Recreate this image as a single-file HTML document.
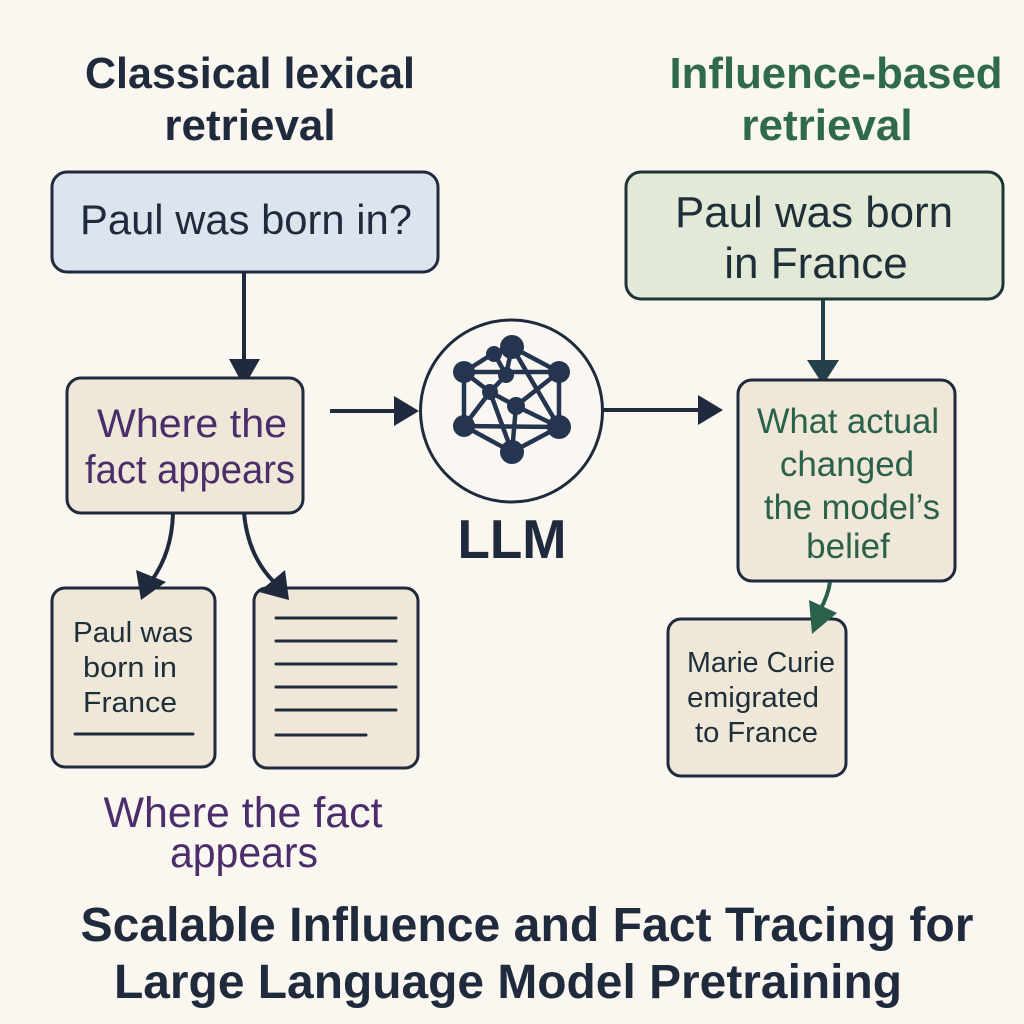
<!DOCTYPE html>
<html>
<head>
<meta charset="utf-8">
<style>
  html, body { margin: 0; padding: 0; background: #faf6f0; }
  svg { display: block; }
  text { font-family: "Liberation Sans", "DejaVu Sans", sans-serif; }
</style>
</head>
<body>
<svg width="1024" height="1024" viewBox="0 0 1024 1024" xmlns="http://www.w3.org/2000/svg">
  <rect x="0" y="0" width="1024" height="1024" fill="#faf6f0"/>

  <!-- Titles -->
  <text x="250" y="88" font-size="44" font-weight="bold" fill="#1f2a3d" text-anchor="middle" textLength="330" lengthAdjust="spacingAndGlyphs">Classical lexical</text>
  <text x="250" y="140" font-size="44" font-weight="bold" fill="#1f2a3d" text-anchor="middle">retrieval</text>

  <text x="836" y="88" font-size="44" font-weight="bold" fill="#2f6a4f" text-anchor="middle" textLength="333" lengthAdjust="spacingAndGlyphs">Influence-based</text>
  <text x="827" y="140" font-size="44" font-weight="bold" fill="#2f6a4f" text-anchor="middle">retrieval</text>

  <!-- Left query box -->
  <rect x="52" y="172" width="386" height="100" rx="15" fill="#dce5ee" stroke="#1f2a3d" stroke-width="3"/>
  <text x="246" y="234" font-size="42" fill="#1f2a3d" text-anchor="middle" textLength="332" lengthAdjust="spacingAndGlyphs">Paul was born in?</text>

  <!-- Down arrow left -->
  <line x1="244" y1="272" x2="244" y2="362" stroke="#1f2a3d" stroke-width="4"/>
  <polygon points="229,359 260,359 244,387" fill="#1f2a3d"/>

  <!-- Where the fact appears box -->
  <rect x="67" y="378" width="236" height="135" rx="14" fill="#efe8d8" stroke="#1f2a3d" stroke-width="3"/>
  <text x="192" y="437" font-size="40" fill="#4a2d6a" text-anchor="middle" textLength="190" lengthAdjust="spacingAndGlyphs">Where the</text>
  <text x="190" y="483" font-size="40" fill="#4a2d6a" text-anchor="middle" textLength="210" lengthAdjust="spacingAndGlyphs">fact appears</text>

  <!-- Arrow to LLM -->
  <line x1="330" y1="411" x2="398" y2="411" stroke="#1f2a3d" stroke-width="4"/>
  <polygon points="394,396 394,426 419,411" fill="#1f2a3d"/>

  <!-- LLM circle -->
  <circle cx="511.5" cy="411" r="91" fill="#faf7f2" stroke="#1f2a3d" stroke-width="3"/>
  <g stroke="#253550" stroke-width="4.5" fill="none" stroke-linecap="round">
    <line x1="494" y1="353" x2="512" y2="347"/>
    <line x1="494" y1="353" x2="464" y2="372"/>
    <line x1="512" y1="347" x2="559" y2="372"/>
    <line x1="464" y1="372" x2="464" y2="426"/>
    <line x1="559" y1="372" x2="559" y2="427"/>
    <line x1="464" y1="426" x2="512" y2="452"/>
    <line x1="559" y1="427" x2="512" y2="452"/>
    <line x1="464" y1="372" x2="559" y2="372"/>
    <line x1="464" y1="426" x2="559" y2="427"/>
    <line x1="494" y1="353" x2="506" y2="375"/>
    <line x1="512" y1="347" x2="506" y2="375"/>
    <line x1="506" y1="375" x2="490" y2="392"/>
    <line x1="464" y1="372" x2="490" y2="392"/>
    <line x1="490" y1="392" x2="464" y2="426"/>
    <line x1="490" y1="392" x2="512" y2="452"/>
    <line x1="490" y1="392" x2="516" y2="406"/>
    <line x1="516" y1="406" x2="559" y2="372"/>
    <line x1="516" y1="406" x2="559" y2="427"/>
    <line x1="516" y1="406" x2="512" y2="452"/>
    <line x1="512" y1="347" x2="559" y2="427"/>
  </g>
  <g fill="#253550">
    <circle cx="512" cy="347" r="12"/>
    <circle cx="494" cy="354" r="8"/>
    <circle cx="464" cy="372" r="11"/>
    <circle cx="559" cy="372" r="11"/>
    <circle cx="506" cy="375" r="8"/>
    <circle cx="490" cy="392" r="8"/>
    <circle cx="516" cy="406" r="9"/>
    <circle cx="464" cy="426" r="11"/>
    <circle cx="559" cy="427" r="12"/>
    <circle cx="512" cy="452" r="12"/>
  </g>
  <text x="512" y="558" font-size="55" font-weight="bold" fill="#1f2a3d" text-anchor="middle" textLength="109" lengthAdjust="spacingAndGlyphs">LLM</text>

  <!-- Arrow LLM to right box -->
  <line x1="603" y1="410" x2="702" y2="410" stroke="#1f2a3d" stroke-width="4"/>
  <polygon points="698,395 698,425 723,410" fill="#1f2a3d"/>

  <!-- Right top box -->
  <rect x="626" y="172" width="377" height="127" rx="15" fill="#e2ead7" stroke="#1e3436" stroke-width="3"/>
  <text x="814" y="227" font-size="44" fill="#1e2f3a" text-anchor="middle" textLength="278" lengthAdjust="spacingAndGlyphs">Paul was born</text>
  <text x="816" y="278" font-size="44" fill="#1e2f3a" text-anchor="middle">in France</text>

  <!-- Down arrow right -->
  <line x1="823" y1="300" x2="823" y2="362" stroke="#24404a" stroke-width="4"/>
  <polygon points="807,360 839,360 823,385" fill="#24404a"/>

  <!-- Right middle box -->
  <rect x="738" y="380" width="217" height="201" rx="14" fill="#efe8d8" stroke="#1f2a3d" stroke-width="3"/>
  <g font-size="35" fill="#2a614a" text-anchor="middle">
    <text x="848" y="433" textLength="182" lengthAdjust="spacingAndGlyphs">What actual</text>
    <text x="847" y="476">changed</text>
    <text x="852" y="519" textLength="176" lengthAdjust="spacingAndGlyphs">the model’s</text>
    <text x="848" y="558">belief</text>
  </g>

  <!-- Marie Curie box -->
  <rect x="668" y="619" width="178" height="157" rx="13" fill="#efe8d8" stroke="#1f2a3d" stroke-width="3"/>
  <g font-size="29" fill="#1e2f3a">
    <text x="687" y="672" textLength="148" lengthAdjust="spacingAndGlyphs">Marie Curie</text>
    <text x="687" y="707" textLength="132" lengthAdjust="spacingAndGlyphs">emigrated</text>
    <text x="695" y="742" textLength="123" lengthAdjust="spacingAndGlyphs">to France</text>
  </g>

  <!-- Green arrow (on top of box) -->
  <path d="M830,582 Q828,596 820,610" stroke="#2a614a" stroke-width="4" fill="none"/>
  <polygon points="809,600 837,613 812,634" fill="#2a614a"/>

  <!-- Doc box 1 -->
  <rect x="52" y="588" width="163" height="179" rx="13" fill="#efe8d8" stroke="#1f2a3d" stroke-width="3"/>
  <g font-size="29" fill="#1e2f3a">
    <text x="73" y="642" textLength="120" lengthAdjust="spacingAndGlyphs">Paul was</text>
    <text x="83" y="677" textLength="94" lengthAdjust="spacingAndGlyphs">born in</text>
    <text x="83" y="712" textLength="94" lengthAdjust="spacingAndGlyphs">France</text>
  </g>
  <line x1="75" y1="734" x2="193" y2="734" stroke="#1f2a3d" stroke-width="3" stroke-linecap="round"/>

  <!-- Doc box 2 -->
  <rect x="254" y="588" width="164" height="180" rx="13" fill="#efe8d8" stroke="#1f2a3d" stroke-width="3"/>
  <g stroke="#1f2a3d" stroke-width="3" stroke-linecap="round">
    <line x1="276" y1="618" x2="396" y2="618"/>
    <line x1="276" y1="641" x2="396" y2="641"/>
    <line x1="276" y1="664" x2="396" y2="664"/>
    <line x1="276" y1="687" x2="396" y2="687"/>
    <line x1="276" y1="710" x2="396" y2="710"/>
    <line x1="276" y1="735" x2="366" y2="735"/>
  </g>

  <!-- Curved arrows from Where box (on top of doc boxes) -->
  <path d="M173,513 Q172,552 152,580" stroke="#1f2a3d" stroke-width="4" fill="none"/>
  <polygon points="136,570 166,582 141,600" fill="#1f2a3d"/>
  <path d="M244,513 Q248,556 274,582" stroke="#1f2a3d" stroke-width="4" fill="none"/>
  <polygon points="285,570 259,592 289,600" fill="#1f2a3d"/>

  <!-- Caption under docs -->
  <text x="243" y="827" font-size="43" fill="#4a2d6a" text-anchor="middle" textLength="279" lengthAdjust="spacingAndGlyphs">Where the fact</text>
  <text x="244" y="867" font-size="43" fill="#4a2d6a" text-anchor="middle" textLength="148" lengthAdjust="spacingAndGlyphs">appears</text>

  <!-- Bottom title -->
  <text x="527" y="941" font-size="48" font-weight="bold" fill="#1f2a3d" text-anchor="middle" textLength="893" lengthAdjust="spacingAndGlyphs">Scalable Influence and Fact Tracing for</text>
  <text x="508" y="998" font-size="48" font-weight="bold" fill="#1f2a3d" text-anchor="middle" textLength="788" lengthAdjust="spacingAndGlyphs">Large Language Model Pretraining</text>
</svg>
</body>
</html>
